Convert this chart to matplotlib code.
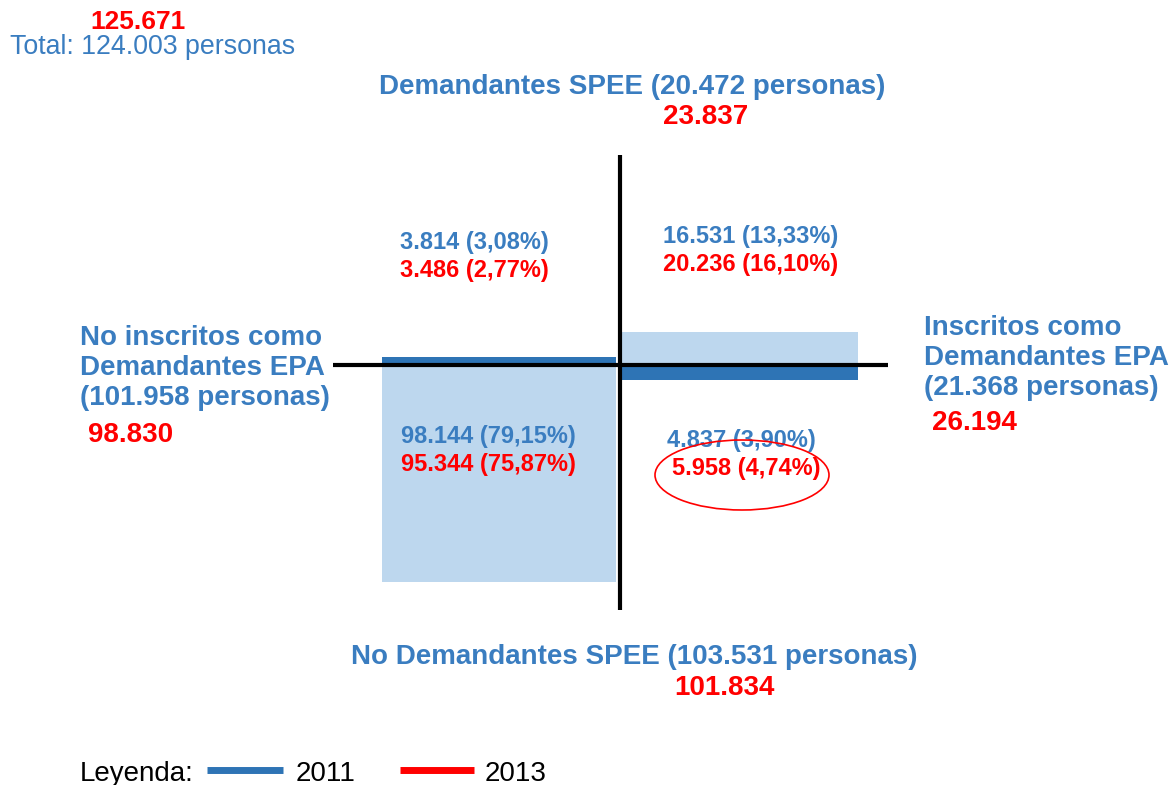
import matplotlib.pyplot as plt
from matplotlib.patches import Ellipse

# colours
BLUE_TXT = '#3A7DC0'
DARK_BLUE = '#2E74B5'
LIGHT_BLUE = '#BDD7EE'
RED = '#FF0000'

# totals
total_2011 = 'Total: 124.003 personas'
total_2013 = '125.671'

# axis labels (2011 text, 2013 value)
top_label = ['Demandantes SPEE (20.472 personas)', '23.837']
bottom_label = ['No Demandantes SPEE (103.531 personas)', '101.834']
left_label = ['No inscritos como\nDemandantes EPA\n(101.958 personas)', '98.830']
right_label = ['Inscritos como\nDemandantes EPA\n(21.368 personas)', '26.194']

# quadrant values: top-left, top-right, bottom-left, bottom-right
quad_2011 = ['3.814 (3,08%)', '16.531 (13,33%)', '98.144 (79,15%)', '4.837 (3,90%)']
quad_2013 = ['3.486 (2,77%)', '20.236 (16,10%)', '95.344 (75,87%)', '5.958 (4,74%)']
quad_xy = [(400, 242), (663, 236), (401, 437), (667, 440)]

# boxes (left / right of the cross), in figure pixel units
box_left = [382, 622]
box_width = [234, 236]
light_top = [357, 332]
light_height = [225, 36]
dark_top = [357, 366]
dark_height = [7, 14]

fig = plt.figure(figsize=(11.76, 7.85), dpi=100)
ax = fig.add_axes([0, 0, 1, 1])
ax.set_xlim(0, 1176)
ax.set_ylim(785, 0)
ax.axis('off')

ax.bar(box_left, light_height, width=box_width, bottom=light_top, align='edge',
       color=LIGHT_BLUE, zorder=1)
ax.bar(box_left, dark_height, width=box_width, bottom=dark_top, align='edge',
       color=DARK_BLUE, zorder=2)

# the cross
ax.plot([333, 888], [365, 365], color='black', lw=3, solid_capstyle='butt', zorder=3)
ax.plot([620, 620], [155, 610], color='black', lw=3, solid_capstyle='butt', zorder=3)

big = dict(fontsize=20, fontweight='bold', family='Liberation Sans')
mid = dict(fontsize=17, fontweight='bold', family='Liberation Sans')

# totals
ax.text(90, 22, total_2013, color=RED, ha='left', va='center',
        fontsize=19, fontweight='bold', family='Liberation Sans')
ax.text(10, 47, total_2011, color=BLUE_TXT, ha='left', va='center',
        fontsize=19.3, family='Liberation Sans')

# top / bottom
ax.text(632, 87, top_label[0], color=BLUE_TXT, ha='center', va='center', **big)
ax.text(706, 117, top_label[1], color=RED, ha='center', va='center', **big)
ax.text(634, 657, bottom_label[0], color=BLUE_TXT, ha='center', va='center', **big)
ax.text(724, 688, bottom_label[1], color=RED, ha='center', va='center', **big)

# left / right
ax.text(80, 368, left_label[0], color=BLUE_TXT, ha='left', va='center',
        linespacing=1.18, **big)
ax.text(88, 435, left_label[1], color=RED, ha='left', va='center', **big)
ax.text(924, 358, right_label[0], color=BLUE_TXT, ha='left', va='center',
        linespacing=1.18, **big)
ax.text(932, 423, right_label[1], color=RED, ha='left', va='center', **big)

# quadrants
for (x, y), a, b in zip(quad_xy, quad_2011, quad_2013):
    ax.text(x, y, a, color=BLUE_TXT, ha='left', va='center', zorder=4, **mid)
    ax.text(x + (5 if a.startswith('4.837') else 0), y + 28, b, color=RED,
            ha='left', va='center', zorder=4, **mid)

ax.add_patch(Ellipse((742, 475), 174, 70, fill=False, edgecolor=RED, lw=1.2, zorder=5))

# legend
leg = dict(fontsize=20, family=['Liberation Sans Narrow', 'Liberation Sans'])
ax.text(80, 774, 'Leyenda:', color='black', ha='left', va='center', **leg)
ax.plot([207, 283], [770, 770], color=DARK_BLUE, lw=5, solid_capstyle='butt')
ax.text(296, 774, '2011', color='black', ha='left', va='center', **leg)
ax.plot([400, 474], [770, 770], color=RED, lw=5, solid_capstyle='butt')
ax.text(485, 774, '2013', color='black', ha='left', va='center', **leg)

fig.savefig('out.png', dpi=100)
